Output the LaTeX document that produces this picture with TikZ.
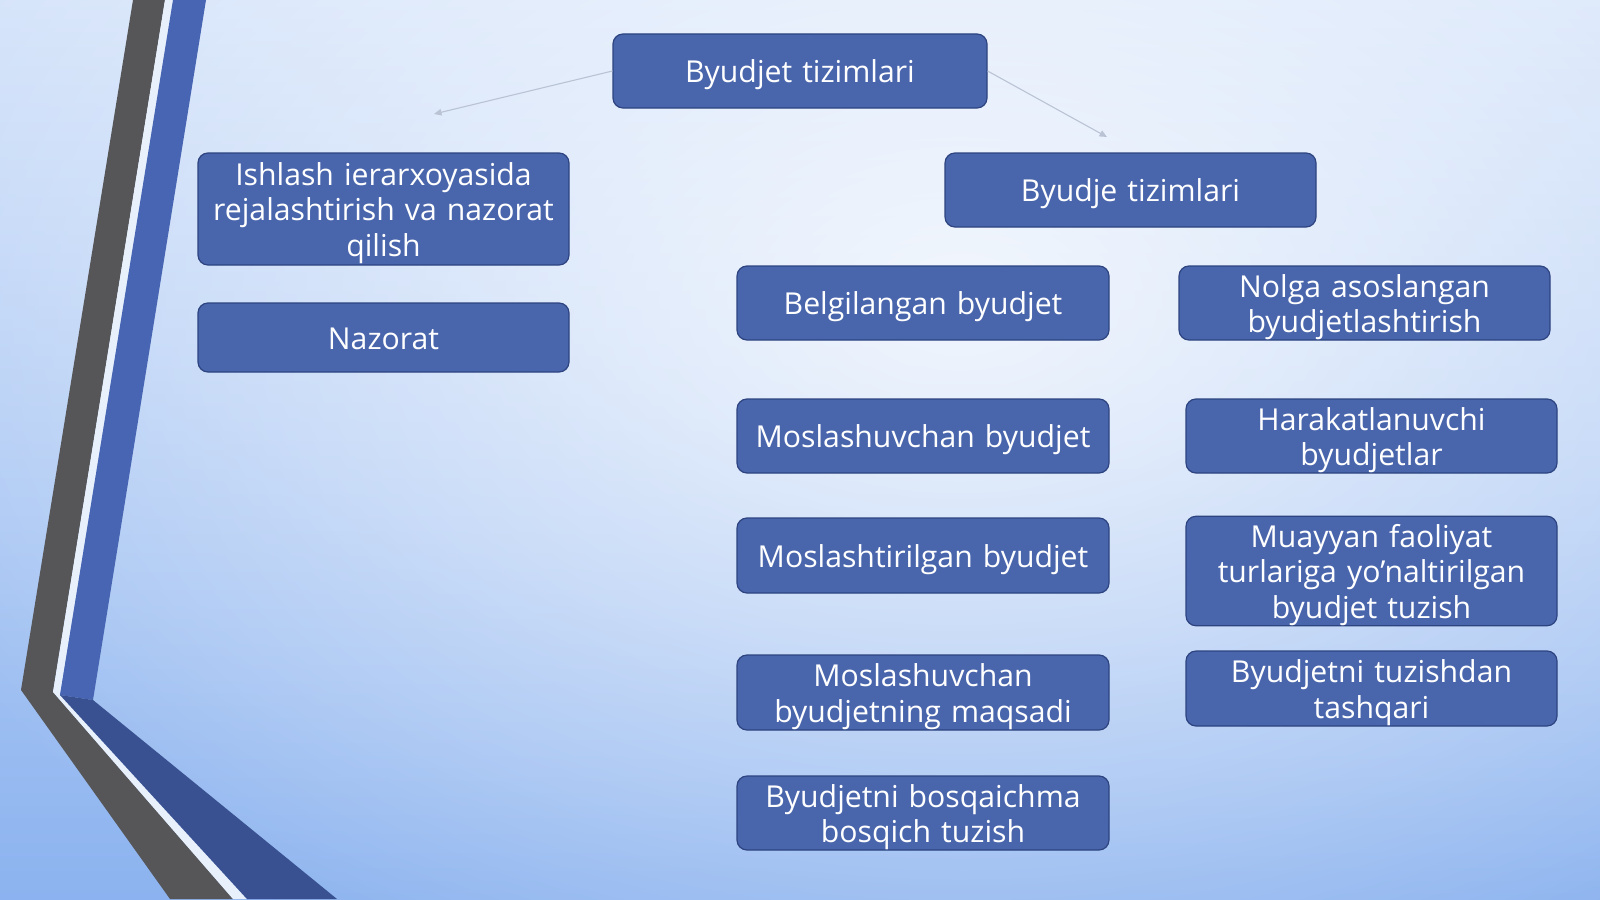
\documentclass[tikz,border=0pt]{standalone}
\usepackage{fontspec}
\setmainfont{Open Sans}
\usetikzlibrary{arrows.meta,fadings}
\tikzfading[name=myglow, inner color=transparent!0, outer color=transparent!100]

\definecolor{boxfill}{RGB}{73,101,172}
\definecolor{boxline}{RGB}{45,68,128}
\definecolor{bandgray}{RGB}{86,86,88}
\definecolor{bandblue}{RGB}{71,101,178}
\definecolor{bandblueD}{RGB}{57,81,145}
\definecolor{gapc}{RGB}{232,240,252}
\definecolor{arrowc}{RGB}{185,195,212}
\definecolor{bgtop}{RGB}{212,227,250}
\definecolor{bgbot}{RGB}{140,179,239}

\begin{document}
\begin{tikzpicture}[x=1pt,y=-1pt,
  box/.style={draw=boxline, line width=1.2pt, fill=boxfill, rounded corners=10pt,
    text=white, align=center, font=\fontsize{30.2}{35.5}\selectfont,
    inner sep=0pt, minimum width=371pt, minimum height=74pt, text width=365pt,
    execute at begin node={\hyphenpenalty=10000\rule{0pt}{31pt}},
    execute at end node={\rule[-7.5pt]{0pt}{7.5pt}}},
  conn/.style={draw=arrowc, line width=1.1pt, -{Triangle[width=6.5pt,length=7.5pt]}}]

\useasboundingbox (0,0) rectangle (1600,899);
% background
\shade[top color=bgtop, bottom color=bgbot] (0,0) rectangle (1600,899);
\fill[white, opacity=0.8, path fading=myglow] (960,300) ellipse (1150 and 760);

% left decoration
\fill[bandgray] (133,0) -- (165,0) -- (53,692) -- (233,899) -- (170,899) -- (21,690) -- cycle;
\fill[gapc] (165,0) -- (173,0) -- (60,695) -- (247,899) -- (233,899) -- (53,692) -- cycle;
\fill[bandblue] (173,0) -- (206,0) -- (93,700) -- (60,695) -- cycle;
\fill[bandblueD] (60,695) -- (93,700) -- (337,899) -- (247,899) -- cycle;

% nodes
\node[box, minimum width=374pt] (top) at (800,71) {Byudjet tizimlari};
\node[box, minimum height=112pt] (ishlash) at (383.5,209) {Ishlash ierarxoyasida\\ rejalashtirish va nazorat\\ qilish};
\node[box, minimum height=69pt] (nazorat) at (383.5,337.5) {Nazorat};
\node[box] (byudje) at (1130.5,190) {Byudje tizimlari};
\node[box, minimum width=372pt] (belg) at (923,303) {Belgilangan byudjet};
\node[box] (nolga) at (1364.5,303) {Nolga asoslangan\\ byudjetlashtirish};
\node[box, minimum width=372pt] (mosl) at (923,436) {Moslashuvchan byudjet};
\node[box] (harak) at (1371.5,436) {Harakatlanuvchi\\ byudjetlar};
\node[box, minimum width=372pt, minimum height=75pt] (moslt) at (923,555.5) {Moslashtirilgan byudjet};
\node[box, minimum height=106pt] (muay) at (1371.5,571) {Muayyan faoliyat\\ turlariga yo’naltirilgan\\ byudjet tuzish};
\node[box, minimum width=372pt, minimum height=75pt] (moslm) at (923,692.5) {Moslashuvchan\\ byudjetning maqsadi};
\node[box, minimum height=75pt] (tuzish) at (1371.5,688.5) {Byudjetni tuzishdan\\ tashqari};
\node[box, minimum width=372pt] (bosq) at (923,813) {Byudjetni bosqaichma\\ bosqich tuzish};

% connectors
\coordinate (la) at (434,114);
\coordinate (ra) at (1107,137);
\draw[conn] (top.west) -- (la);
\draw[conn] (top.east) -- (ra);
\end{tikzpicture}
\end{document}
